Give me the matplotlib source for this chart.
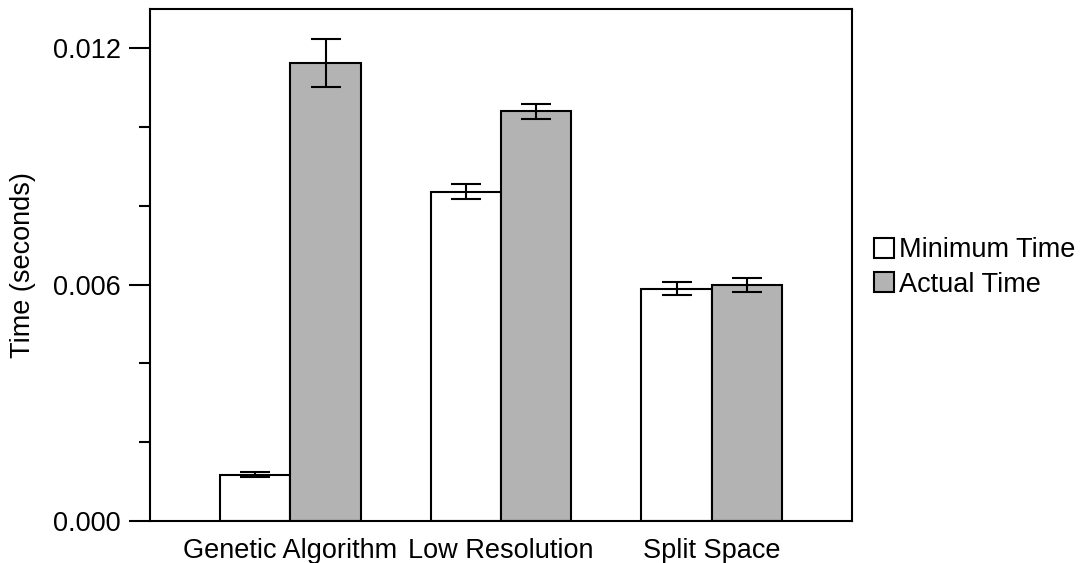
import numpy as np
import matplotlib
matplotlib.use("Agg")
import matplotlib.pyplot as plt
from matplotlib.ticker import MultipleLocator, FixedLocator

# timing results per method (seconds)
methods = ["Genetic Algorithm", "Low Resolution", "Split Space"]
min_time = [0.00118, 0.00836, 0.00590]
min_err = [0.00006, 0.00019, 0.00017]
actual_time = [0.01163, 0.01040, 0.00600]
actual_err = [0.00062, 0.00020, 0.00018]
series_labels = ["Minimum Time", "Actual Time"]
y_ticks = [0.000, 0.006, 0.012]

plt.rcParams['font.family'] = ['Liberation Sans', 'DejaVu Sans']
plt.rcParams['font.size'] = 19.5

fig = plt.figure(figsize=(10.81, 5.63), dpi=100)
ax = fig.add_axes([150 / 1081, 1 - 521 / 563, 702 / 1081, 512 / 563])

x = np.arange(len(methods))
w = 1 / 3
lw = 1.5
err_kw = dict(elinewidth=lw, capthick=lw, capsize=10.5)

ax.bar(x - w / 2, min_time, w, yerr=min_err, color='white', edgecolor='black',
       linewidth=lw, ecolor='black', error_kw=err_kw, label=series_labels[0])
ax.bar(x + w / 2, actual_time, w, yerr=actual_err, color='#b3b3b3', edgecolor='black',
       linewidth=lw, ecolor='black', error_kw=err_kw, label=series_labels[1])

ax.set_xlim(-2 / 3, 2 + 2 / 3)
ax.set_ylim(0, 0.013)
ax.set_xticks(x)
ax.set_xticklabels(methods)
ax.tick_params(axis='x', length=0, pad=12.5)

ax.yaxis.set_major_locator(FixedLocator(y_ticks))
ax.set_yticklabels([f"{v:.3f}" for v in y_ticks])
ax.yaxis.set_minor_locator(MultipleLocator(0.002))
ax.tick_params(axis='y', which='major', length=15, width=lw, pad=6)
ax.tick_params(axis='y', which='minor', length=8, width=lw)
ax.set_ylabel("Time (seconds)", labelpad=12)

for spine in ax.spines.values():
    spine.set_linewidth(lw)

ax.legend(loc='center left', bbox_to_anchor=(1.031, 0.495), frameon=False,
          handlelength=0.75, handleheight=0.75, handletextpad=0.18,
          labelspacing=0.3, borderaxespad=0, borderpad=0)

fig.savefig("out.png", dpi=100, facecolor='white')
